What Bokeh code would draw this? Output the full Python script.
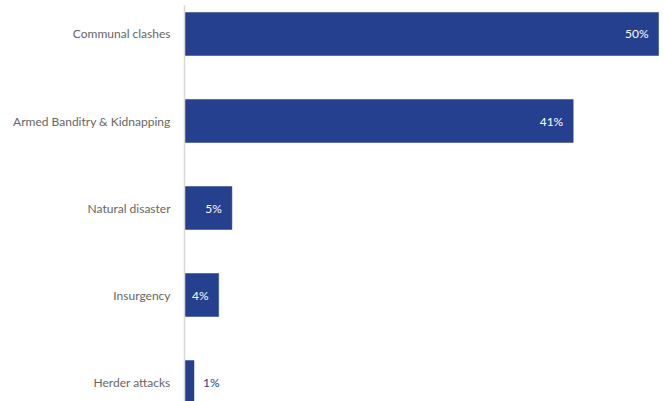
from bokeh.plotting import figure
from bokeh.models import Range1d, ColumnDataSource
from bokeh.core.properties import value
from bokeh.embed import file_html
from bokeh.resources import INLINE

categories = ["Communal clashes", "Armed Banditry & Kidnapping", "Natural disaster", "Insurgency", "Herder attacks"]
values = [50, 41, 5, 3.6, 1]
value_labels = ["50%", "41%", "5%", "4%", "1%"]
inside = [True, True, True, True, False]

BAR_COLOR = "#24408e"
FONT = value("Lato")

idx = list(range(len(categories)))

p = figure(width=664, height=401, output_backend="svg", toolbar_location=None,
           x_range=Range1d(-19.41, 50.63), y_range=Range1d(4.224, -0.385),
           min_border=0, min_border_left=0, min_border_right=0,
           min_border_top=0, min_border_bottom=0)
p.xaxis.visible = False
p.yaxis.visible = False
p.xgrid.visible = False
p.ygrid.visible = False
p.outline_line_color = None
p.background_fill_color = "white"
p.border_fill_color = "white"

src = ColumnDataSource(dict(y=idx, v=values, cat=categories))
p.hbar(y="y", right="v", left=0, height=0.494, source=src,
       fill_color=BAR_COLOR, line_color=BAR_COLOR, line_width=0.5)

# axis line
p.segment(x0=[0], x1=[0], y0=[-0.33], y1=[4.3], line_color="#d9d9d9", line_width=1.5)

# category labels
p.text(x=[0] * len(idx), y=idx, text=categories, x_offset=-14,
       text_align="right", text_baseline="middle", text_font=FONT,
       text_font_size="12px", text_color="#666666")

# value labels
in_y = [i for i in idx if inside[i]]
in_x = [values[i] for i in idx if inside[i]]
in_t = [value_labels[i] for i in idx if inside[i]]
p.text(x=in_x, y=in_y, text=in_t, x_offset=-10, text_align="right",
       text_baseline="middle", text_font=FONT, text_font_size="12px", text_color="white")
out_y = [i for i in idx if not inside[i]]
out_x = [values[i] for i in idx if not inside[i]]
out_t = [value_labels[i] for i in idx if not inside[i]]
p.text(x=out_x, y=out_y, text=out_t, x_offset=9, text_align="left",
       text_baseline="middle", text_font=FONT, text_font_size="12px", text_color=BAR_COLOR)

open("out.html", "w").write(file_html(p, INLINE))
